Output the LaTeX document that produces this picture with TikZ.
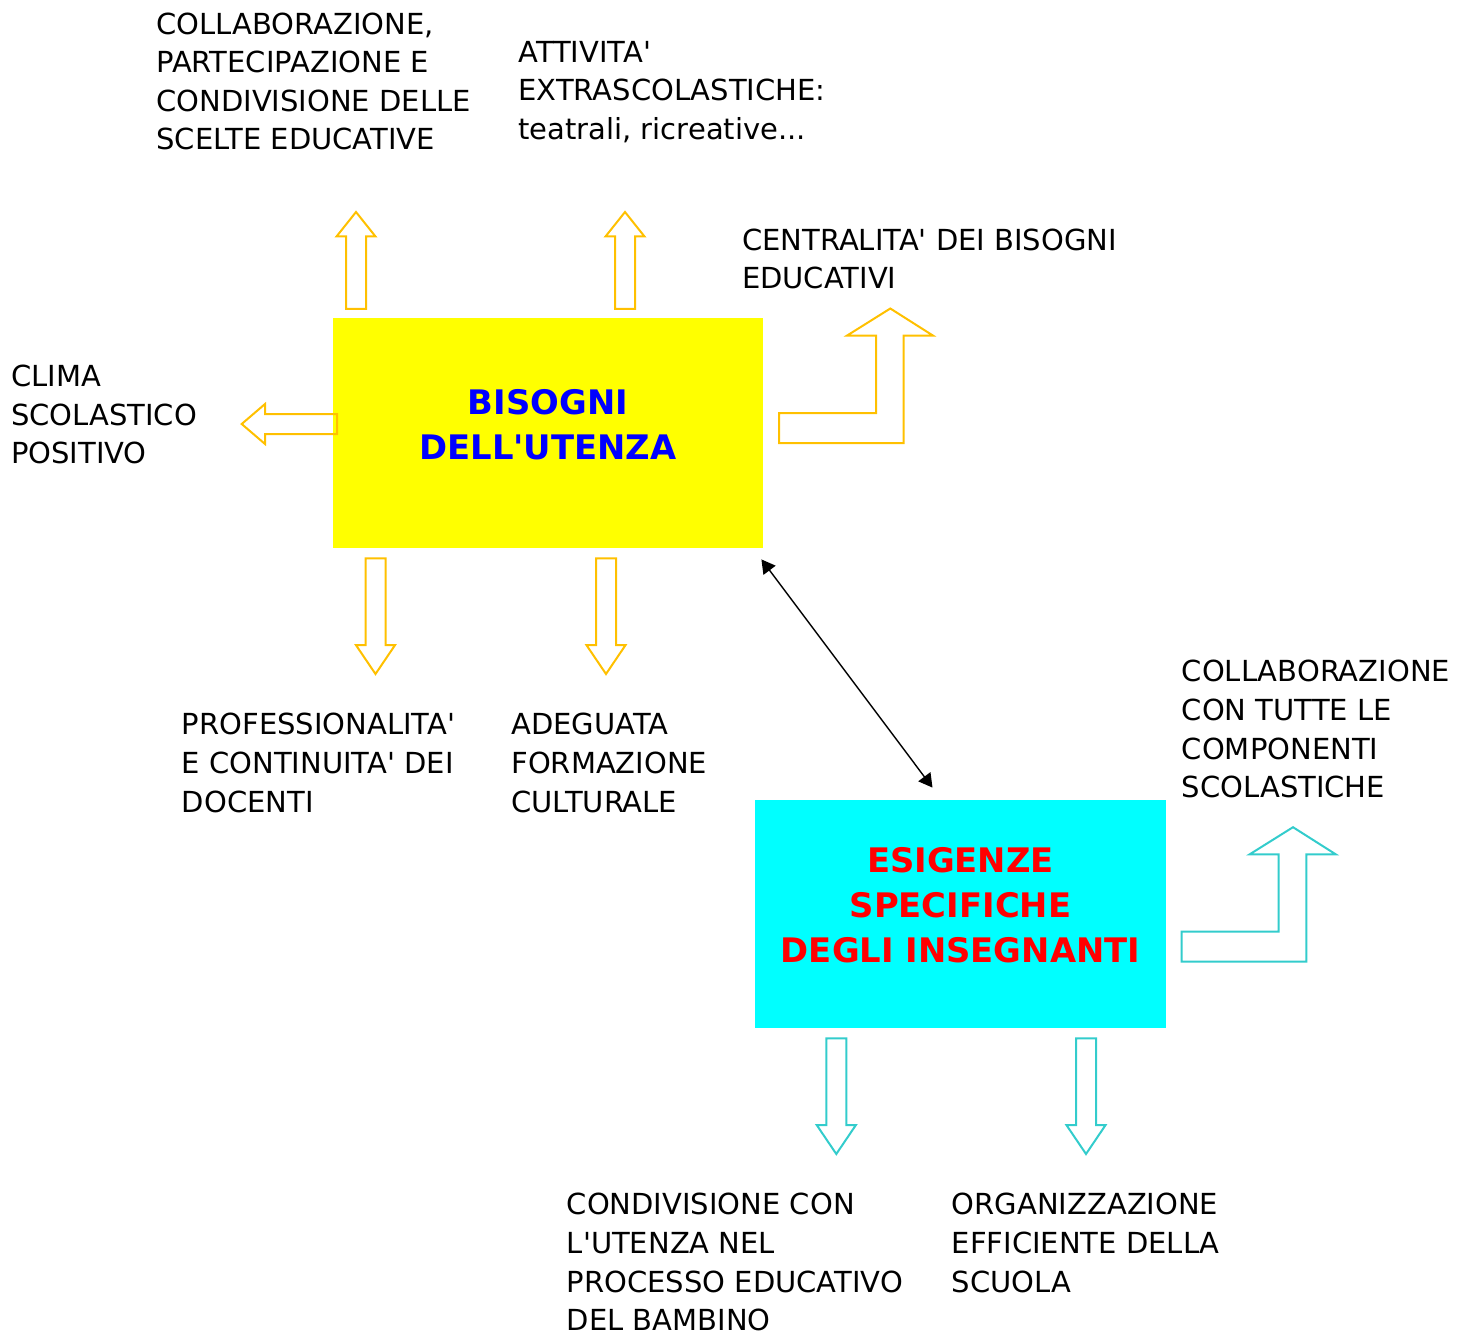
\documentclass[tikz,border=0pt]{standalone}
\usepackage{fontspec}
\setmainfont{DejaVu Sans}[Ligatures=TeXOff]
\usetikzlibrary{positioning, arrows.meta}
\definecolor{arrgold}{RGB}{255,192,0}
\definecolor{arrteal}{RGB}{51,204,204}
\definecolor{boxyellow}{RGB}{255,255,0}
\definecolor{boxcyan}{RGB}{0,255,255}
\definecolor{txtblue}{RGB}{0,0,255}
\definecolor{txtred}{RGB}{255,0,0}

\begin{document}
\begin{tikzpicture}[
    x=0.5pt, y=-0.5pt,
    txt/.style={anchor=north west, inner sep=0pt, align=left, font=\fontsize{14.5}{19.3}\selectfont},
    boxtxt/.style={inner sep=0pt, align=center, font=\bfseries\fontsize{16.9}{22.5}\selectfont},
    yarr/.style={draw=arrgold, line width=1pt},
    carr/.style={draw=arrteal, line width=1pt},
    dbl/.style={arrows={Triangle[length=6.8pt, width=7.5pt]-Triangle[length=6.8pt, width=7.5pt]}, line width=0.7pt},
    uparr/.pic={\draw[pic actions] (-10,0) -- (-10,-72.5) -- (-19.5,-72.5) -- (0,-97) -- (19.5,-72.5) -- (10,-72.5) -- (10,0) -- cycle;},
    downarr/.pic={\draw[pic actions] (-10,0) -- (-10,86.7) -- (-19.6,86.7) -- (0,115.7) -- (19.6,86.7) -- (10,86.7) -- (10,0) -- cycle;},
    leftarr/.pic={\draw[pic actions] (0,-10) -- (-72,-10) -- (-72,-20) -- (-95.3,0) -- (-72,20) -- (-72,10) -- (0,10) -- cycle;},
    bentarr/.pic={\draw[pic actions] (0,0) -- (0,-30) -- (97,-30) -- (97,-107.4) -- (68,-107.4) -- (111.3,-134.5) -- (154,-107.4) -- (124.6,-107.4) -- (124.6,0) -- cycle;},
  ]
  \useasboundingbox (0,0) rectangle (1467,1332);

  % === boxes ===
  \node (ubox) [fill=boxyellow, minimum width=215pt, minimum height=115pt, inner sep=0pt] at (548,433) {};
  \node (utxt) [boxtxt, text=txtblue] at ([yshift=4.25pt]ubox.center) {BISOGNI\\DELL'UTENZA};
  \node (ibox) [fill=boxcyan, minimum width=205.5pt, minimum height=114pt, inner sep=0pt] at (960.5,914) {};
  \node (itxt) [boxtxt, text=txtred] at ([yshift=4.25pt]ibox.center) {ESIGENZE\\SPECIFICHE\\DEGLI INSEGNANTI};
  \draw[dbl] ([shift={(-2,11)}]ubox.south east) -- ([shift={(-28,-12)}]ibox.north);

  % === yellow arrows ===
  \pic[yarr] at (356,309) {uparr};
  \pic[yarr] at (625,309) {uparr};
  \pic[yarr] at (337,424) {leftarr};
  \pic[yarr] at (779,443) {bentarr};
  \pic[yarr] at (375.5,558.3) {downarr};
  \pic[yarr] at (606,558.3) {downarr};

  % === cyan arrows ===
  \pic[carr] at (1181.7,961.7) {bentarr};
  \pic[carr] at (836.3,1038.3) {downarr};
  \pic[carr] at (1086,1038.3) {downarr};

  % === texts ===
  \node (collab) [txt] at (156,12.2) {COLLABORAZIONE,\\PARTECIPAZIONE E\\CONDIVISIONE DELLE\\SCELTE EDUCATIVE};
  \node (attiv) [txt] at (518,40.6) {ATTIVITA'\\EXTRASCOLASTICHE:\\teatrali, ricreative...};
  \node (centr) [txt] at (741.7,228.2) {CENTRALITA' DEI BISOGNI\\EDUCATIVI};
  \node (clima) [txt] at (10.7,364.6) {CLIMA\\SCOLASTICO\\POSITIVO};
  \node (profess) [txt] at (181.5,712.9) {PROFESSIONALITA'\\E CONTINUITA' DEI\\DOCENTI};
  \node (formaz) [txt] at (511,712.9) {ADEGUATA\\FORMAZIONE\\CULTURALE};
  \node (compon) [txt] at (1181.5,659.9) {COLLABORAZIONE\\CON TUTTE LE\\COMPONENTI\\SCOLASTICHE};
  \node (condiv) [txt] at (566.5,1192.9) {CONDIVISIONE CON\\L'UTENZA NEL\\PROCESSO EDUCATIVO\\DEL BAMBINO};
  \node (organ) [txt] at (951.5,1192.9) {ORGANIZZAZIONE\\EFFICIENTE DELLA\\SCUOLA};
\end{tikzpicture}
\end{document}
